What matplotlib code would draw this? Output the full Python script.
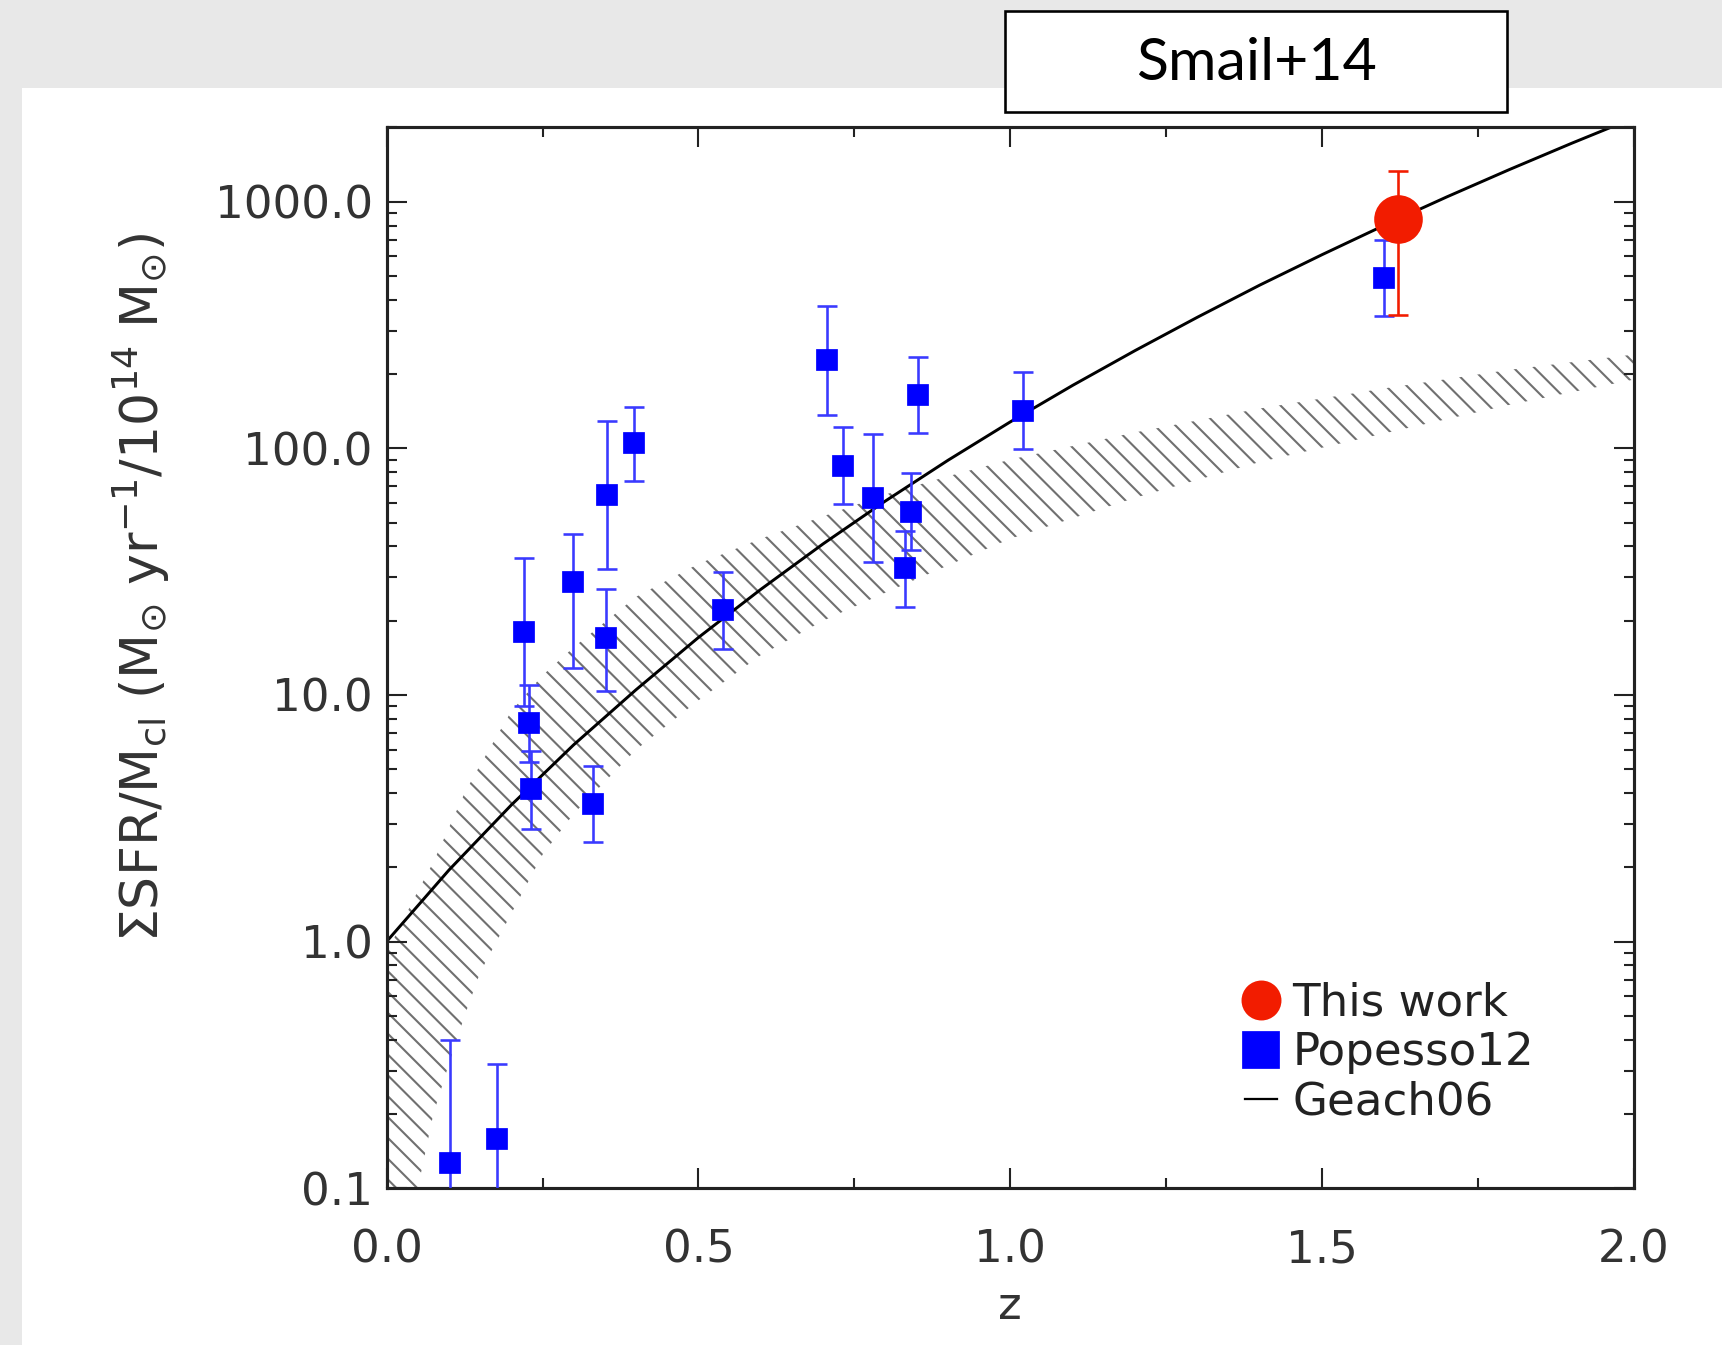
import numpy as np
import matplotlib
matplotlib.use('Agg')
import matplotlib.pyplot as plt
from matplotlib.patches import Rectangle
from matplotlib.lines import Line2D
from matplotlib.ticker import MultipleLocator, LogLocator, FixedLocator, NullFormatter, FormatStrFormatter

# Popesso12 clusters: redshift, value, lower and upper end of error bar
pop_z = [0.102, 0.177, 0.221, 0.229, 0.231, 0.299, 0.331, 0.352, 0.354, 0.396,
         0.539, 0.706, 0.732, 0.780, 0.831, 0.841, 0.852, 1.020, 1.599]
pop_val = [0.126, 0.159, 18.0, 7.7, 4.17, 28.7, 3.62, 17.0, 64.8, 105.0,
           22.1, 229.0, 84.6, 63.0, 32.8, 55.0, 165.0, 141.0, 490.0]
pop_lo = [0.05, 0.05, 9.0, 5.35, 2.86, 12.8, 2.53, 10.4, 32.3, 74.0,
          15.4, 136.0, 59.6, 34.5, 22.7, 38.6, 115.0, 98.9, 344.0]
pop_hi = [0.40, 0.32, 36.0, 11.0, 5.9, 44.8, 5.13, 26.9, 129.0, 147.0,
          31.4, 377.0, 122.0, 114.0, 46.4, 79.6, 235.0, 203.0, 698.0]

# this work
this_z = [1.622]
this_val = [849.0]
this_lo = [348.0]
this_hi = [1331.0]

# Geach06 curve
geach_z = [0.0, 0.1, 0.2, 0.3, 0.4, 0.5, 0.6, 0.7, 0.8, 0.9, 1.0,
           1.1, 1.2, 1.3, 1.4, 1.5, 1.6, 1.7, 1.8, 1.9, 2.0]
geach_val = [1.0, 1.95, 3.58, 6.28, 10.5, 17.1, 26.8, 41.0, 61.2, 89.4, 128.0,
             180.0, 249.0, 340.0, 459.0, 610.0, 803.0, 1046.0, 1349.0, 1725.0, 2187.0]

# hatched band
band_z = [0.0, 0.025, 0.05, 0.075, 0.1, 0.125, 0.15, 0.2, 0.25, 0.3, 0.4, 0.5,
          0.6, 0.7, 0.8, 0.9, 1.0, 1.2, 1.4, 1.6, 1.8, 2.0]
band_lo = [0.02, 0.05, 0.1, 0.2, 0.32, 0.5, 0.75, 1.3, 2.25, 3.3, 6.0, 9.5,
           14.5, 20.0, 26.0, 33.5, 43.0, 63.0, 88.0, 115.0, 150.0, 190.0]
band_hi = [0.9, 1.2, 1.6, 2.1, 2.9, 4.0, 5.2, 8.6, 12.0, 15.6, 25.0, 34.0,
           43.0, 53.0, 65.0, 77.0, 90.0, 116.0, 145.0, 175.0, 208.0, 240.0]

ytick_vals = [0.1, 1.0, 10.0, 100.0, 1000.0]

plt.rcParams['hatch.linewidth'] = 1.2
plt.rcParams['mathtext.fontset'] = 'dejavusans'

DPI = 125
fig = plt.figure(figsize=(1722 / DPI, 1345 / DPI), dpi=DPI, facecolor='#e8e8e8')
fig.patches.append(Rectangle((22 / 1722, 0), 1, 1 - 88 / 1345, transform=fig.transFigure,
                             facecolor='white', edgecolor='none', zorder=-10))

ax = fig.add_axes([386.6 / 1722, 1 - 1188.2 / 1345, 1247.5 / 1722, 1060.8 / 1345])
ax.set_yscale('log')

ax.fill_between(band_z, band_lo, band_hi, facecolor='none', edgecolor='#707070',
                hatch='\\\\', linewidth=0, zorder=1)
ax.plot(geach_z, geach_val, color='black', lw=1.7, zorder=2)

pv = np.array(pop_val)
ax.errorbar(pop_z, pop_val, yerr=[pv - np.array(pop_lo), np.array(pop_hi) - pv],
            fmt='s', color='blue', ecolor='#3a3aff', elinewidth=1.5, capsize=6,
            capthick=1.5, ms=11, zorder=3)
tv = np.array(this_val)
ax.errorbar(this_z, this_val, yerr=[tv - np.array(this_lo), np.array(this_hi) - tv],
            fmt='o', color='#f21c00', ecolor='#f21c00', elinewidth=1.5, capsize=6,
            capthick=1.5, ms=27, zorder=4)

ax.set_xlim(0, 2.0)
ax.set_ylim(0.1, 2000)

ax.xaxis.set_major_locator(MultipleLocator(0.5))
ax.xaxis.set_minor_locator(MultipleLocator(0.25))
ax.xaxis.set_major_formatter(FormatStrFormatter('%.1f'))
ax.yaxis.set_major_locator(FixedLocator(ytick_vals))
ax.yaxis.set_minor_locator(LogLocator(base=10, subs=np.arange(2, 10)))
ax.yaxis.set_major_formatter(FormatStrFormatter('%.1f'))
ax.yaxis.set_minor_formatter(NullFormatter())

ax.tick_params(which='both', direction='in', top=True, right=True, colors='#222222',
               labelcolor='#333333', labelsize=26)
ax.tick_params(which='major', length=11.5, width=1.2)
ax.tick_params(which='minor', length=5.8, width=1.2)
ax.tick_params(axis='x', which='major', pad=23)
ax.tick_params(axis='y', which='major', pad=8)
for s in ax.spines.values():
    s.set_linewidth(1.8)
    s.set_color('#222222')

ax.set_xlabel('z', fontsize=26, color='#333333', labelpad=8)
ax.set_ylabel(r'$\Sigma$SFR/M$_{\rm cl}$ (M$_{\odot}$ yr$^{-1}$/10$^{14}$ M$_{\odot}$)',
              fontsize=30, color='#333333')
ax.yaxis.set_label_coords(-0.172, 0.567)

handles = [Line2D([], [], marker='o', color='#f21c00', ls='none', ms=22),
           Line2D([], [], marker='s', color='blue', ls='none', ms=21),
           Line2D([], [], color='black', lw=1.3)]
ax.legend(handles, ['This work', 'Popesso12', 'Geach06'], loc='upper left',
          bbox_to_anchor=(1245 / 1722, 1 - 982 / 1345), bbox_transform=fig.transFigure,
          frameon=False, fontsize=26, handlelength=0.7, handletextpad=0.35,
          labelspacing=0.14, borderpad=0, borderaxespad=0, labelcolor='#222222')

# label box at the top
fig.patches.append(Rectangle((1005 / 1722, 1 - 112 / 1345), 502 / 1722, 101 / 1345,
                             transform=fig.transFigure, facecolor='white',
                             edgecolor='black', lw=1.5, zorder=5))
fig.text(1256 / 1722, 1 - 63 / 1345, 'Smail+14', ha='center', va='center',
         fontsize=34, family='Lato', color='black', zorder=6)

plt.savefig('out.png', dpi=DPI, facecolor=fig.get_facecolor())
